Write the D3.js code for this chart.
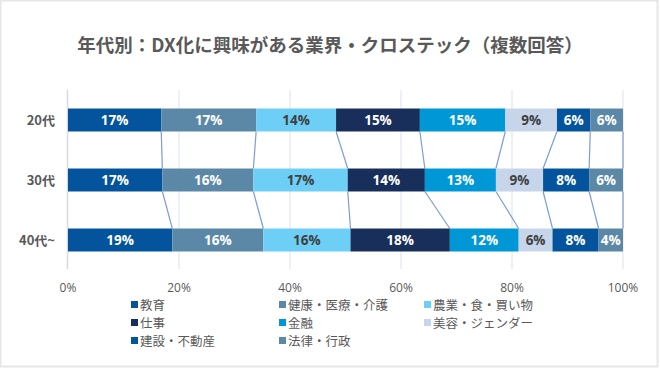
<!DOCTYPE html>
<html>
<head>
<meta charset="utf-8">
<script src="https://cdn.jsdelivr.net/npm/d3@7"></script>
<style>
  html, body { margin: 0; padding: 0; background: #fff; }
  svg { display: block; font-family: "Noto Sans CJK JP", "Noto Sans", sans-serif; }
</style>
</head>
<body>
<svg id="chart" width="660" height="369"></svg>
<script>
const title = "年代別：DX化に興味がある業界・クロステック（複数回答）";
const categories = ["20代", "30代", "40代~"];
const seriesNames = ["教育", "健康・医療・介護", "農業・食・買い物", "仕事", "金融", "美容・ジェンダー", "建設・不動産", "法律・行政"];
const seriesColors = ["#03549C", "#5B88A6", "#6DCFF6", "#172F5A", "#0097D7", "#C6D5EA", "#03549C", "#5B88A6"];
const labelColors = ["#fff", "#fff", "#404040", "#fff", "#fff", "#404040", "#fff", "#fff"];
// values per series, in category order (20代, 30代, 40代~), percent
const s教育 = [16.8, 17.0, 18.8];
const s健康 = [17.1, 16.4, 16.4];
const s農業 = [14.4, 17.0, 15.7];
const s仕事 = [15.1, 13.9, 17.9];
const s金融 = [15.4, 12.8, 12.4];
const s美容 = [9.3, 8.5, 6.1];
const s建設 = [6.0, 8.3, 8.3];
const s法律 = [5.9, 6.1, 4.4];
const seriesValues = [s教育, s健康, s農業, s仕事, s金融, s美容, s建設, s法律];
const xTicks = [0, 20, 40, 60, 80, 100];

const svg = d3.select("#chart");

// frame
svg.append("rect").attr("x", 0.5).attr("y", 0.5).attr("width", 657).attr("height", 366)
  .attr("fill", "#fff").attr("stroke", "#E6E6E6").attr("stroke-width", 2);

svg.append("text").attr("x", 330).attr("y", 52).attr("text-anchor", "middle")
  .attr("font-size", 18.5).attr("font-weight", "bold").attr("fill", "#595959").text(title);

const x = d3.scaleLinear().domain([0, 100]).range([68, 623]);
const y = d3.scaleBand().domain(categories).range([90, 270]).paddingInner(0.617).paddingOuter(0.3085);

// grid
svg.append("g").selectAll("line").data(xTicks.slice(1)).join("line")
  .attr("x1", d => x(d)).attr("x2", d => x(d)).attr("y1", 90).attr("y2", 269)
  .attr("stroke", "#D9E2F3").attr("stroke-width", 1);
svg.append("line").attr("x1", x(0) - 0.5).attr("x2", x(0) - 0.5).attr("y1", 90).attr("y2", 269)
  .attr("stroke", "#D9D9D9").attr("stroke-width", 1.5);

// stacked data
const data = categories.map((c, i) => {
  const row = { cat: c };
  seriesNames.forEach((s, j) => row[s] = seriesValues[j][i]);
  return row;
});
const stacked = d3.stack().keys(seriesNames)(data);

// series lines
const lg = svg.append("g");
stacked.forEach((layer, j) => {
  for (let i = 0; i < categories.length - 1; i++) {
    lg.append("line")
      .attr("x1", x(layer[i][1])).attr("y1", y(categories[i]) + y.bandwidth())
      .attr("x2", x(layer[i + 1][1])).attr("y2", y(categories[i + 1]))
      .attr("stroke", "#7D9CD8").attr("stroke-width", 1.2);
  }
});

// bars
stacked.forEach((layer, j) => {
  const g = svg.append("g");
  g.selectAll("rect").data(layer).join("rect")
    .attr("x", d => x(d[0])).attr("width", d => x(d[1]) - x(d[0]))
    .attr("y", (d, i) => y(categories[i])).attr("height", y.bandwidth())
    .attr("fill", seriesColors[j]);
  g.selectAll("text").data(layer).join("text")
    .attr("x", d => (x(d[0]) + x(d[1])) / 2)
    .attr("y", (d, i) => y(categories[i]) + y.bandwidth() / 2 + 4.5)
    .attr("text-anchor", "middle").attr("font-size", 13.5).attr("font-weight", "bold")
    .attr("font-family", "'Open Sans', 'Noto Sans', sans-serif")
    .attr("fill", labelColors[j])
    .text(d => Math.round(d[1] - d[0]) + "%");
});

// y labels
svg.append("g").selectAll("text").data(categories).join("text")
  .attr("x", 55).attr("y", d => y(d) + y.bandwidth() / 2 + 4.5)
  .attr("text-anchor", "end").attr("font-size", 13).attr("font-weight", "bold")
  .attr("fill", "#595959").text(d => d);

// x ticks
svg.append("g").selectAll("text").data(xTicks).join("text")
  .attr("x", d => x(d)).attr("y", 292).attr("text-anchor", "middle")
  .attr("font-size", 12).attr("fill", "#595959")
  .attr("font-family", "'Open Sans', 'Noto Sans', sans-serif")
  .text(d => d + "%");

// legend
const colX = [131, 279, 424];
const rowY = [305, 323, 341];
const lgd = svg.append("g");
seriesNames.forEach((s, j) => {
  const cx = colX[j % 3], cy = rowY[Math.floor(j / 3)];
  lgd.append("rect").attr("x", cx).attr("y", cy - 4).attr("width", 7).attr("height", 7).attr("fill", seriesColors[j]);
  lgd.append("text").attr("x", cx + 9).attr("y", cy + 4.5).attr("font-size", 12.5)
    .attr("fill", "#595959").text(s);
});
</script>
</body>
</html>
